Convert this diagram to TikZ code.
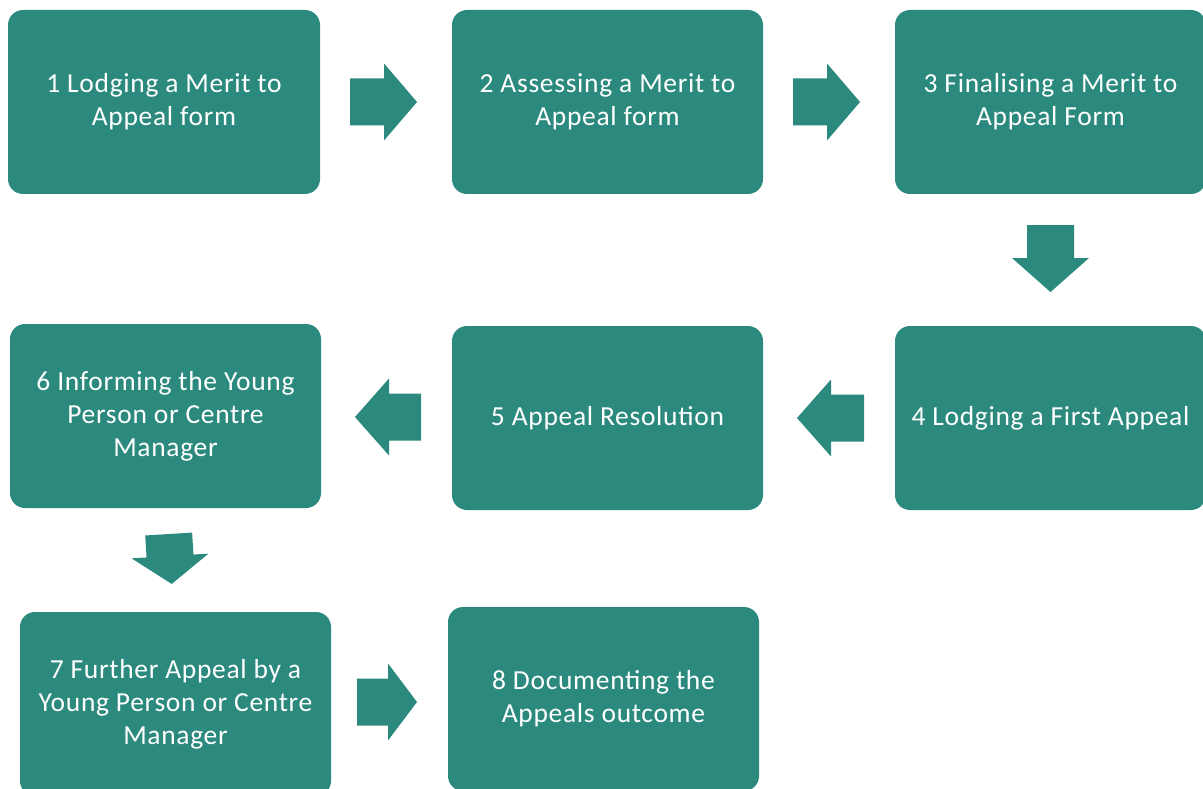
\documentclass[tikz,border=0pt]{standalone}
\usepackage{fontspec}
\setmainfont{Carlito}
\definecolor{teal1}{RGB}{43,138,125}
\tikzset{
  stepbox/.style={fill=teal1, rounded corners=15pt, minimum width=311pt, minimum height=184pt,
    inner sep=0pt, text=white, align=center, font=\fontsize{27.5pt}{33pt}\selectfont\addfontfeatures{LetterSpace=2.5}},
  pics/barrow/.style 2 args={code={
    \fill[teal1] (-#1,-23.5) -- (0,-23.5) -- (0,-38.5) -- (#2,0) -- (0,38.5) -- (0,23.5) -- (-#1,23.5) -- cycle;}}
}
\begin{document}
\begin{tikzpicture}[x=1pt,y=-1pt]
\useasboundingbox (0,0) rectangle (1203,789);
\node[stepbox, minimum width=312pt] (b1) at (164,102) {1 Lodging a Merit to\\Appeal form};
\node[stepbox] (b2) at (607.5,102) {2 Assessing a Merit to\\Appeal form};
\node[stepbox] (b3) at (1050.5,102) {3 Finalising a Merit to\\Appeal Form};
\node[stepbox] (b4) at (1050.5,418) {4 Lodging a First Appeal};
\node[stepbox] (b5) at (607.5,418) {5 Appeal Resolution};
\node[stepbox] (b6) at (165.5,416) {6 Informing the Young\\Person or Centre\\Manager};
\node[stepbox] (b7) at (175.5,704) {7 Further Appeal by a\\Young Person or Centre\\Manager};
\node[stepbox] (b8) at (603.5,699) {8 Documenting the\\Appeals outcome};
\pic at (384,102) {barrow={34}{33}};
\pic at (827,102) {barrow={34}{33}};
\pic[rotate=-90] at (1050.5,258) {barrow={33}{34}};
\pic[rotate=180] at (831,418) {barrow={33}{34}};
\pic[rotate=180] at (389,417) {barrow={32}{34}};
\pic[rotate=-86.5] at (170,556) {barrow={22}{28}};
\pic at (388,702) {barrow={31}{29}};
\end{tikzpicture}
\end{document}
